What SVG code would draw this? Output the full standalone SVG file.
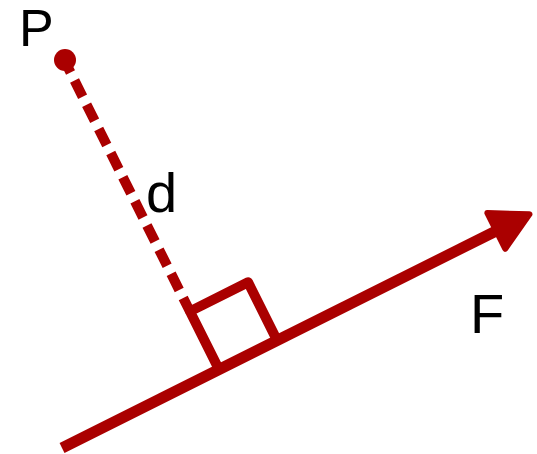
<svg xmlns="http://www.w3.org/2000/svg" width="537" height="454" viewBox="0 0 537 454">
<style>
.ln{fill:none;stroke:#aa0000;stroke-width:10}
.lbl{font-family:"Liberation Sans",Arial,sans-serif;fill:#000}
</style>
<rect width="537" height="454" fill="#fff"/>
<g id="connectors">
<g transform="translate(219,369.5) rotate(-26.565)">
<line id="force-line" class="ln" x1="-175.5" y1="0" x2="312" y2="0" style="stroke-width:11"/>
<polygon id="arrowhead" points="347,0 310,-20 310,20" fill="#aa0000" stroke="#aa0000" stroke-width="6" stroke-linejoin="round"/>
<line id="distance" class="ln" x1="0" y1="-344.5" x2="0" y2="-65" stroke-dasharray="18 9" stroke-dashoffset="5.5"/>
</g>
</g>
<g id="right-angle" transform="translate(219,369.5) rotate(-26.565)">
<path class="ln" d="M0,0 V-65 H65 V0" stroke-linejoin="round"/>
</g>
<g id="point-P">
<circle cx="65" cy="60" r="11" fill="#aa0000"/>
<text class="lbl" x="19" y="46" font-size="52">P</text>
</g>
<g id="label-d">
<text class="lbl" x="146" y="211.5" font-size="56">d</text>
</g>
<g id="label-F">
<text class="lbl" x="470" y="333" font-size="56">F</text>
</g>
</svg>
